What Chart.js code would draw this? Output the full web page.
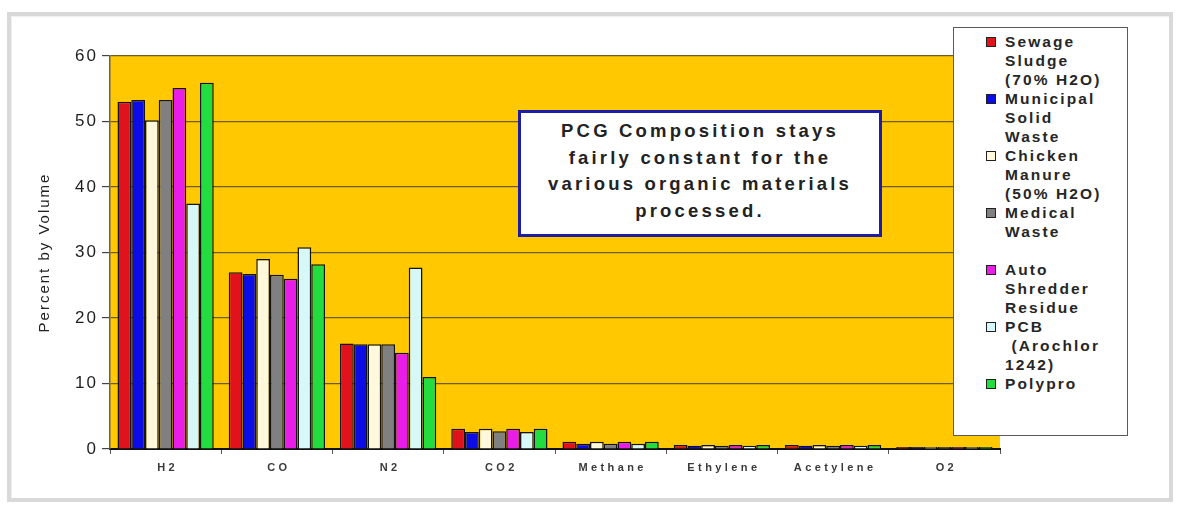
<!DOCTYPE html>
<html>
<head>
    <title>PCG Composition</title>
    <meta charset="UTF-8">
    <style>
        body { margin: 0; background: #ffffff; font-family: "Liberation Sans", Arial, sans-serif; }
        #wrap { position: relative; width: 1181px; height: 505px; overflow: hidden; }
        #frame { position: absolute; left: 7px; top: 12px; width: 1158px; height: 482px;
                 border: 4px solid #d9d9d9; box-shadow: inset 1px 1px 0 #eeeeee; }
        #chart_box { position: absolute; left: 0; top: 0; width: 1181px; height: 505px; }
        #note { position: absolute; left: 518px; top: 110px; width: 358px; height: 116px;
                border: 3px solid #1c1ca6; background: #ffffff; text-align: center;
                font-weight: bold; font-size: 18.5px; line-height: 26.5px; letter-spacing: 3.2px;
                color: #222222; padding-top: 5px; box-sizing: content-box; }
        #legend { position: absolute; left: 953px; top: 27px; width: 175px; height: 409px;
                  border: 1.5px solid #5a5a5a; background: #ffffff; padding-top: 4px; box-sizing: border-box; }
        .item { position: relative; padding-left: 51px; font-weight: bold; font-size: 15.5px;
                line-height: 19px; letter-spacing: 2.1px; color: #262626; white-space: pre; }
        .mark { position: absolute; left: 32px; top: 5px; width: 8px; height: 8px; border: 1.5px solid #202020; }
    </style>
</head>
<body>

<div id="wrap">
    <div id="frame"></div>
    <div id="chart_box"><canvas id="first" width="1181" height="505"></canvas></div>
    <div id="note">PCG Composition stays<br>fairly constant for the<br>various organic materials<br>processed.</div>
    <div id="legend"></div>
</div>

<script src="https://cdn.jsdelivr.net/npm/chart.js"></script>
<script>

    // gases on the x axis
    var gas_names = ["H2", "CO", "N2", "CO2", "Methane", "Ethylene", "Acetylene", "O2"];

    // percent by volume for each feed material
    var sewage_sludge   = [53.0, 27.0, 16.1, 3.1, 1.1, 0.6, 0.6, 0.3];
    var municipal_waste = [53.3, 26.7, 16.0, 2.6, 0.8, 0.5, 0.5, 0.3];
    var chicken_manure  = [50.2, 29.0, 16.0, 3.1, 1.1, 0.6, 0.6, 0.3];
    var medical_waste   = [53.3, 26.6, 16.0, 2.7, 0.8, 0.5, 0.5, 0.3];
    var auto_shredder   = [55.1, 26.0, 14.7, 3.1, 1.1, 0.6, 0.6, 0.3];
    var pcb_arochlor    = [37.5, 30.8, 27.7, 2.6, 0.8, 0.5, 0.5, 0.3];
    var polypro         = [55.9, 28.2, 11.0, 3.1, 1.1, 0.6, 0.6, 0.3];

    // legend names, one entry per line
    var series_names = [
        ["Sewage", "Sludge", "(70% H2O)"],
        ["Municipal", "Solid", "Waste"],
        ["Chicken", "Manure", "(50% H2O)"],
        ["Medical", "Waste", ""],
        ["Auto", "Shredder", "Residue"],
        ["PCB", " (Arochlor", "1242)"],
        ["Polypro"]
    ];
    var series_values = [sewage_sludge, municipal_waste, chicken_manure, medical_waste, auto_shredder, pcb_arochlor, polypro];
    var series_colors = ["#e0121c", "#0c0ce6", "#fff8dc", "#808080", "#e81ee8", "#d6f8f8", "#22dc40"];

    var y_ticks = [0, 10, 20, 30, 40, 50, 60];

    // gold plot background + wide lettering like the picture
    const plot_style = {
        id: "plot_style",
        beforeDraw(chart) {
            const a = chart.chartArea;
            const ctx = chart.ctx;
            ctx.save();
            ctx.fillStyle = "#ffc800";
            ctx.fillRect(a.left, a.top, a.right - a.left, a.bottom - a.top);
            ctx.restore();
            ctx.letterSpacing = "2px";
        },
        afterDraw(chart) {
            // category labels, placed by the x scale
            const ctx = chart.ctx;
            const xs = chart.scales.x;
            ctx.save();
            ctx.letterSpacing = "3.4px";
            ctx.font = "bold 11px 'Liberation Sans'";
            ctx.fillStyle = "#3a3a3a";
            ctx.textAlign = "center";
            ctx.textBaseline = "middle";
            for (var i = 0; i < gas_names.length; i++) {
                ctx.fillText(gas_names[i], xs.getPixelForTick(i) + 2, chart.chartArea.bottom + 19);
            }
            ctx.restore();
            ctx.letterSpacing = "0px";
        }
    };

    var datasets = [];
    for (var i = 0; i < series_values.length; i++) {
        datasets.push({
            label: series_names[i].join(" "),
            data: series_values[i],
            backgroundColor: series_colors[i],
            borderColor: "#141414",
            borderWidth: 1.5,
            borderSkipped: "bottom",
            barPercentage: 1.0,
            categoryPercentage: 0.865
        });
    }

    const config = {
        type: "bar",
        data: { labels: gas_names, datasets: datasets },
        plugins: [plot_style],
        options: {
            responsive: false,
            animation: false,
            events: [],
            layout: { padding: { left: 30, top: 56, right: 181, bottom: 0 } },
            plugins: { legend: { display: false }, tooltip: { enabled: false } },
            scales: {
                x: {
                    afterFit: function (scale) { scale.height = 56; },
                    ticks: { display: false },
                    grid: { drawOnChartArea: false, drawTicks: true, tickLength: 5, tickColor: "#555555", offset: true },
                    border: { color: "#111111", width: 2 }
                },
                y: {
                    min: 0,
                    max: 60,
                    afterFit: function (scale) { scale.width = 80; },
                    afterBuildTicks: function (scale) { scale.ticks = y_ticks.map(function (v) { return { value: v }; }); },
                    ticks: { color: "#1e1e1e", padding: 4, font: { size: 17, family: "'Liberation Sans'" } },
                    grid: { color: "#6e5c26", lineWidth: 1.2, tickLength: 8, tickColor: "#444444" },
                    border: { color: "#6e6040", width: 1.5 },
                    title: { display: true, text: "Percent by Volume", color: "#222222",
                             font: { size: 15, family: "'Liberation Sans'" }, padding: { top: 6, bottom: 0 } }
                }
            }
        }
    };

    window.myChart_gas = new Chart(document.getElementById("first"), config);

    // legend built from the same series
    var legend = document.getElementById("legend");
    for (var k = 0; k < series_names.length; k++) {
        var item = document.createElement("div");
        item.className = "item";
        var mark = document.createElement("span");
        mark.className = "mark";
        mark.style.background = series_colors[k];
        item.appendChild(mark);
        var text = series_names[k].map(function (s) { return s === "" ? " " : s; }).join("\n");
        item.appendChild(document.createTextNode(text));
        legend.appendChild(item);
    }

</script>
</body>
</html>
